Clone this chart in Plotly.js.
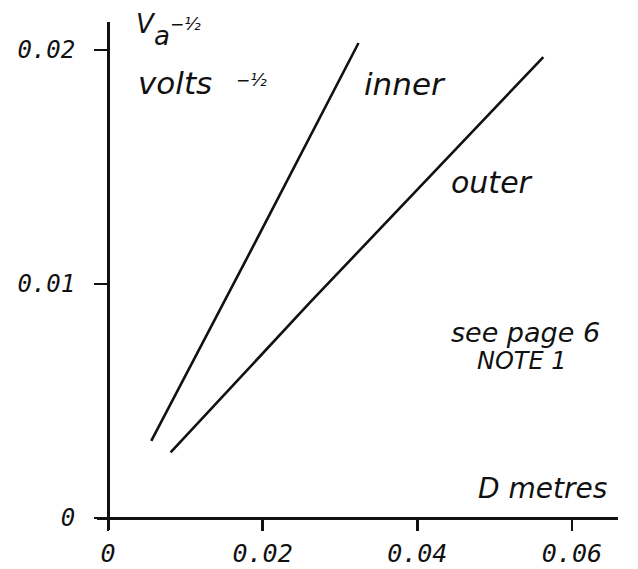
<!DOCTYPE html>
<html>
<head>
<meta charset="utf-8">
<script src="https://cdn.plot.ly/plotly-3.0.1.min.js"></script>
<style>
  html, body { margin: 0; padding: 0; background: #ffffff; }
  #chart { width: 638px; height: 569px; }
</style>
</head>
<body>
<div id="chart"></div>
<script>
// Inverse square root of accelerating voltage against ring diameter D
const innerD = [0.0056, 0.0186, 0.0324];
const innerV = [0.0033, 0.0115, 0.0203];
const outerD = [0.0081, 0.0261, 0.0563];
const outerV = [0.0028, 0.0092, 0.0197];

const xTickVals = [0, 0.02, 0.04, 0.06];
const xTickText = ["0", "0.02", "0.04", "0.06"];
const yTickVals = [0, 0.01, 0.02];
const yTickText = ["0", "0.01", "0.02"];

const xRange = [-0.00142, 0.06596];
const yRange = [-0.000513, 0.021197];

const hand = "DejaVu Sans, Liberation Sans, sans-serif";
const mono = "DejaVu Sans Mono, Liberation Mono, monospace";
const ink = "#111111";

const lineStyle = { color: ink, width: 2.6 };

const traces = [
  { x: innerD, y: innerV, mode: "lines", line: lineStyle, name: "inner", hoverinfo: "skip" },
  { x: outerD, y: outerV, mode: "lines", line: lineStyle, name: "outer", hoverinfo: "skip" }
];

function note(text, x, y, size, xanchor) {
  return {
    text: text, x: x, y: y, xref: "x", yref: "y",
    xanchor: xanchor || "left", yanchor: "middle",
    showarrow: false, borderpad: 0,
    font: { family: hand, size: size, color: ink, style: "italic" }
  };
}

const layout = {
  width: 638,
  height: 569,
  margin: { l: 97, r: 20, t: 22, b: 39 },
  paper_bgcolor: "#ffffff",
  plot_bgcolor: "#ffffff",
  showlegend: false,
  xaxis: {
    range: xRange,
    anchor: "free",
    position: (0 - yRange[0]) / (yRange[1] - yRange[0]),
    showgrid: false,
    zeroline: false,
    showline: true,
    linecolor: ink,
    linewidth: 3,
    ticks: "outside",
    ticklen: 11,
    tickwidth: 2.5,
    tickcolor: ink,
    tickvals: xTickVals,
    ticktext: xTickText,
    ticklabelstandoff: 1,
    tickfont: { family: mono, size: 25, color: ink, style: "italic" }
  },
  yaxis: {
    range: yRange,
    anchor: "free",
    position: (0 - xRange[0]) / (xRange[1] - xRange[0]),
    showgrid: false,
    zeroline: false,
    showline: true,
    linecolor: ink,
    linewidth: 3,
    ticks: "outside",
    ticklen: 13,
    tickwidth: 2.5,
    tickcolor: ink,
    tickvals: yTickVals,
    ticktext: yTickText,
    ticklabelstandoff: 14,
    tickfont: { family: mono, size: 24, color: ink, style: "italic" }
  },
  annotations: [
    note("V", 0.00355, 0.02111, 26),
    note("a", 0.00585, 0.0206, 26),
    note("−½", 0.00785, 0.02111, 17),
    note("volts", 0.00369, 0.01859, 31),
    note("−½", 0.01638, 0.01872, 17),
    note("inner", 0.03294, 0.01855, 31),
    note("outer", 0.0442, 0.01432, 30),
    note("see page 6", 0.05405, 0.00791, 27, "center"),
    note("NOTE 1", 0.05353, 0.00671, 24, "center"),
    note("D metres", 0.06466, 0.00124, 28, "right")
  ]
};

Plotly.newPlot("chart", traces, layout, { staticPlot: true, displayModeBar: false });
</script>
</body>
</html>
